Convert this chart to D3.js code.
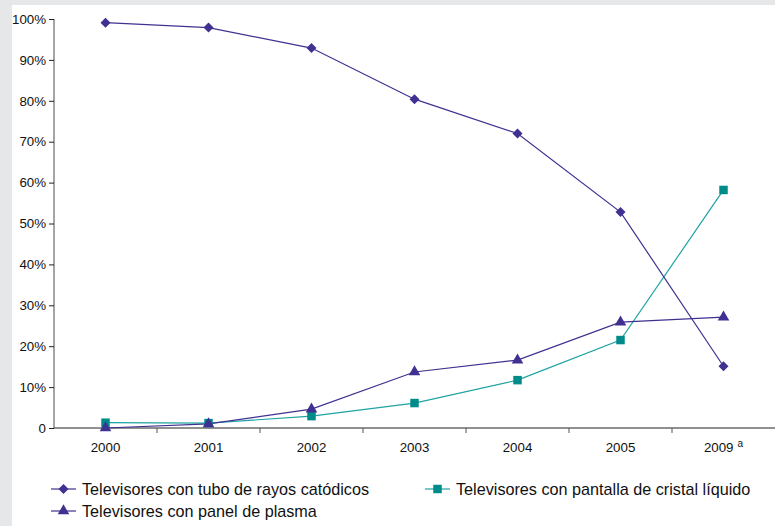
<!DOCTYPE html>
<html><head><meta charset="utf-8">
<script src="https://cdn.jsdelivr.net/npm/d3@7"></script>
<style>body{margin:0;background:#e6e7e8;}svg{display:block;font-family:"Liberation Sans",Arial,sans-serif;}</style>
</head><body>
<script>
const categories = ["2000","2001","2002","2003","2004","2005","2009"];
const crt    = [99.1, 97.9, 92.9, 80.4, 72.0, 52.8, 15.1];
const lcd    = [1.3, 1.2, 2.9, 6.1, 11.7, 21.5, 58.2];
const plasma = [0.0, 1.0, 4.6, 13.7, 16.6, 25.9, 27.1];
const yTicks = [0,10,20,30,40,50,60,70,80,90,100];
const seriesNames = ["Televisores con tubo de rayos catódicos","Televisores con pantalla de cristal líquido","Televisores con panel de plasma"];

const W=775,H=526;
const svg=d3.select("body").append("svg").attr("width",W).attr("height",H);
svg.append("rect").attr("x",0).attr("y",0).attr("width",W).attr("height",H).attr("fill","#e6e7e8");
svg.append("rect").attr("x",12).attr("y",5).attr("width",W-12).attr("height",H-5).attr("fill","#fff");

const x=d3.scaleBand().domain(categories).range([54,775]);
const y=d3.scaleLinear().domain([0,100]).range([428,19]);

// y axis
const ya=svg.append("g").attr("transform","translate(54,0)")
  .call(d3.axisLeft(y).tickValues(yTicks).tickSize(5).tickFormat(d=>d===0?"0":d+"%"));
ya.select(".domain").attr("stroke","#888").attr("stroke-width",1.5).attr("d","M0,19V428");
ya.selectAll(".tick line").attr("stroke","#222");
ya.selectAll("text").attr("font-size",13.3).attr("fill","#111").attr("font-family","Liberation Sans, Arial, sans-serif").attr("x",-8);

// x axis
const xa=svg.append("g").attr("transform","translate(0,428)");
xa.append("line").attr("x1",54).attr("x2",775).attr("stroke","#222").attr("stroke-width",1.2);
categories.forEach((c,i)=>{
  const bx=x(c)+x.bandwidth();
  if(i<categories.length-1) xa.append("line").attr("x1",bx).attr("x2",bx).attr("y1",0).attr("y2",5).attr("stroke","#555");
});
categories.forEach(c=>{
  const t=xa.append("text").attr("x",x(c)+x.bandwidth()/2).attr("y",24).attr("text-anchor","middle")
    .attr("font-size",13.3).attr("fill","#111").text(c);
  if(c==="2009"){ t.append("tspan").attr("dx",4).attr("dy",-5).attr("font-size",10).text("a"); }
});

const cx=c=>x(c)+x.bandwidth()/2;
const purple="#3f3191", teal="#008b8b", tealLine="#1fa3a3";
function drawLine(vals,color){
  const line=d3.line().x((d,i)=>cx(categories[i])).y(d=>y(d));
  svg.append("path").datum(vals).attr("d",line).attr("fill","none").attr("stroke",color).attr("stroke-width",1.2);
}
drawLine(lcd,tealLine);
drawLine(plasma,purple);
drawLine(crt,purple);

const diamond=d3.symbol().type(d3.symbolDiamond2).size(64);
const square=d3.symbol().type(d3.symbolSquare).size(72);
const tri=d3.symbol().type(d3.symbolTriangle).size(58);
function marks(vals,sym,color){
  svg.append("g").selectAll("path").data(vals).join("path")
    .attr("d",sym).attr("fill",color)
    .attr("transform",(d,i)=>`translate(${cx(categories[i])},${y(d)})`);
}
marks(lcd,square,teal);
marks(plasma,tri,purple);
marks(crt,diamond,purple);

// legend
const leg=[{n:seriesNames[0],x:51,y:489,sym:diamond,c:purple,lc:purple},
           {n:seriesNames[1],x:425,y:489,sym:square,c:teal,lc:tealLine},
           {n:seriesNames[2],x:51,y:511,sym:tri,c:purple,lc:purple}];
leg.forEach(l=>{
  const g=svg.append("g");
  g.append("line").attr("x1",l.x).attr("x2",l.x+25).attr("y1",l.y).attr("y2",l.y).attr("stroke",l.lc).attr("stroke-width",1.2);
  g.append("path").attr("d",l.sym).attr("fill",l.c).attr("transform",`translate(${l.x+12.5},${l.y})`);
  g.append("text").attr("x",l.x+31).attr("y",l.y+5.7).attr("font-size",16.2).attr("fill","#111").text(l.n);
});
</script>
</body></html>
